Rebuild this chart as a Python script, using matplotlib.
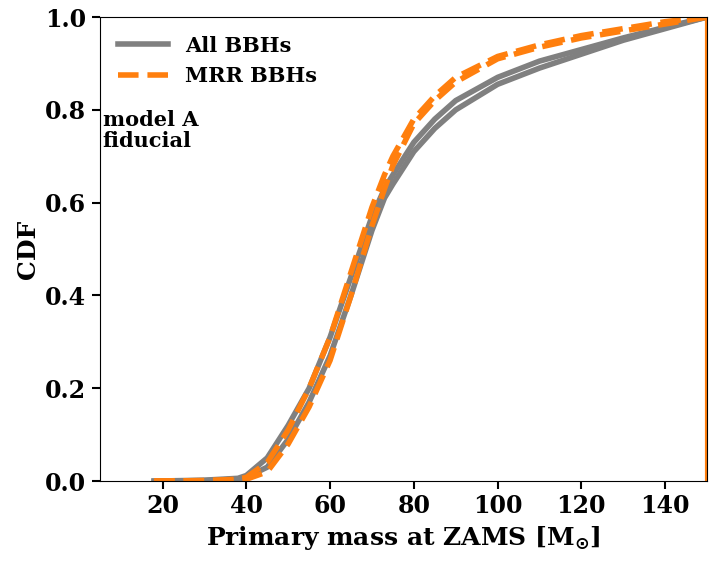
import numpy as np
import matplotlib.pyplot as plt

plt.rcParams['font.family'] = 'DejaVu Serif'
plt.rcParams['font.weight'] = 'bold'
plt.rcParams['axes.labelweight'] = 'bold'
plt.rcParams['font.size'] = 17

# primary mass at ZAMS [Msun] and CDF values
mass = [18, 30, 38, 40, 45, 50, 55, 60, 65, 70, 73, 75, 80, 85, 90, 100, 110, 120, 130, 140, 150]
cdf_all_1 = [0, 0.002, 0.006, 0.012, 0.05, 0.12, 0.2, 0.31, 0.44, 0.57, 0.63, 0.66, 0.73, 0.78, 0.82, 0.87, 0.905, 0.93, 0.955, 0.978, 1.0]
cdf_all_2 = [0, 0.001, 0.004, 0.008, 0.03, 0.09, 0.17, 0.27, 0.40, 0.54, 0.61, 0.64, 0.71, 0.76, 0.80, 0.855, 0.89, 0.92, 0.95, 0.975, 1.0]
cdf_mrr_1 = [0, 0.001, 0.004, 0.008, 0.04, 0.11, 0.2, 0.31, 0.45, 0.59, 0.66, 0.70, 0.78, 0.83, 0.87, 0.915, 0.94, 0.96, 0.975, 0.99, 1.0]
cdf_mrr_2 = [0, 0.001, 0.002, 0.004, 0.02, 0.08, 0.16, 0.26, 0.40, 0.55, 0.63, 0.68, 0.77, 0.82, 0.86, 0.91, 0.935, 0.955, 0.97, 0.985, 1.0]

gray = 'gray'
orange = '#ff7f0e'

fig, ax = plt.subplots(figsize=(7.12, 5.68), dpi=100)

ax.plot(mass, cdf_all_1, c=gray, lw=4, label='All BBHs')
ax.plot(mass, cdf_all_2, c=gray, lw=4)
ax.plot(mass, cdf_mrr_1, c=orange, lw=4, ls='--', label='MRR BBHs')
ax.plot(mass, cdf_mrr_2, c=orange, lw=4, ls='--')
ax.plot([mass[-1], mass[-1]], [0, 1], c=orange, lw=3)

ax.set_xlim(5, 150)
ax.set_ylim(0, 1)
ax.set_xticks([20, 40, 60, 80, 100, 120, 140])
ax.tick_params(direction='out', length=6, width=1.5)
ax.set_xlabel(r'Primary mass at ZAMS [M$_{\odot}$]', fontsize=18)
ax.set_ylabel('CDF', fontsize=18)

ax.legend(loc='upper left', frameon=False, fontsize=15, handlelength=2.4)
ax.text(0.005, 0.80, 'model A\nfiducial', transform=ax.transAxes, fontsize=15, va='top', linespacing=1.1)

plt.subplots_adjust(left=0.14, right=0.993, top=0.97, bottom=0.153)
plt.savefig('out.png')
